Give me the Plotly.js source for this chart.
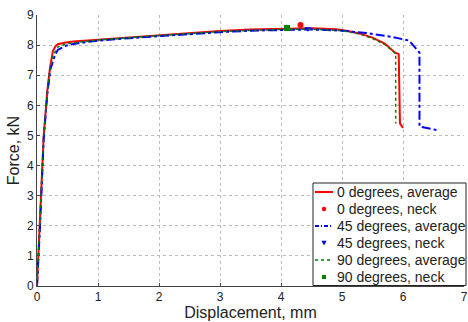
<!DOCTYPE html>
<html><head><meta charset="utf-8">
<script src="https://cdn.plot.ly/plotly-3.0.1.min.js"></script>
<style>html,body{margin:0;padding:0;background:#fff}#c{width:468px;height:322px}</style>
</head><body><div id="c"></div>
<script>
const x0avg = [0,0.05,0.11,0.17,0.21,0.26,0.3,0.34,0.45,0.6,1,1.5,2,2.5,3,3.5,4,4.5,4.9,5.1,5.3,5.5,5.7,5.87,5.93,5.95,6.0];
const y0avg = [0,2.2,5,6.5,7.2,7.8,7.95,8.03,8.08,8.12,8.18,8.25,8.33,8.4,8.47,8.52,8.55,8.56,8.53,8.47,8.38,8.25,8.05,7.75,7.7,5.4,5.25];
const x45avg = [0,0.05,0.11,0.17,0.22,0.3,0.34,0.5,0.7,1,1.5,2,2.5,3,3.5,4,4.5,5,5.4,5.8,6.1,6.27,6.27,6.55];
const y45avg = [0,2,4.9,6.4,7.2,7.7,7.84,8.0,8.07,8.15,8.23,8.3,8.37,8.43,8.48,8.5,8.52,8.48,8.4,8.28,8.15,7.75,5.3,5.18];
const x90avg = [0,0.05,0.11,0.17,0.21,0.27,0.35,0.5,1,2,3,4,4.5,5,5.3,5.5,5.7,5.88,5.88];
const y90avg = [0,2.1,5,6.45,7.15,7.7,7.95,8.05,8.17,8.32,8.45,8.52,8.53,8.48,8.36,8.22,8.02,7.72,5.4];
const neck0x = [4.32], neck0y = [8.67];
const neck45x = [4.44], neck45y = [8.54];
const neck90x = [4.1], neck90y = [8.57];
const names = ["0 degrees, average","0 degrees, neck","45 degrees, average","45 degrees, neck","90 degrees, average","90 degrees, neck"];
const xTicks = [0,1,2,3,4,5,6,7];
const yTicks = [0,1,2,3,4,5,6,7,8,9];

const FONT = 'Liberation Sans, Arial, Helvetica, sans-serif';
const traces = [
 {x:x0avg,y:y0avg,mode:'lines',name:names[0],line:{color:'#ff0000',width:2}},
 {x:neck0x,y:neck0y,mode:'markers',name:names[1],marker:{color:'#ff0000',size:6,symbol:'circle'}},
 {x:x45avg,y:y45avg,mode:'lines',name:names[2],line:{color:'#0000ff',width:2,dash:'dashdot'}},
 {x:neck45x,y:neck45y,mode:'markers',name:names[3],marker:{color:'#0000ff',size:6,symbol:'triangle-down'}},
 {x:x90avg,y:y90avg,mode:'lines',name:names[4],line:{color:'#008000',width:1.5,dash:'dot'}},
 {x:neck90x,y:neck90y,mode:'markers',name:names[5],marker:{color:'#008000',size:6,symbol:'square'}}
];

// legend drawn as shapes + annotations (paper coordinates)
const L=37,T=15,W=427,H=271;
const px = v => (v-L)/W, py = v => (T+H-v)/H;
const shapes = [{type:'rect',xref:'paper',yref:'paper',x0:px(313),x1:px(466),y0:py(285.5),y1:py(183),
  fillcolor:'#fff',line:{color:'#222',width:1}}];
const annotations = [];
const styles = [
 {kind:'line',color:'#ff0000',width:2,dash:'solid'},
 {kind:'circle',color:'#ff0000'},
 {kind:'line',color:'#0000ff',width:2,dash:'4px,2px,1px,2px'},
 {kind:'tri',color:'#0000ff'},
 {kind:'line',color:'#008000',width:1.5,dash:'dot'},
 {kind:'square',color:'#008000'}
];
names.forEach((n,i)=>{
  const r = 192 + 17*i, s = styles[i], cx = 324;
  if (s.kind==='line') shapes.push({type:'line',xref:'paper',yref:'paper',x0:px(315),x1:px(333),y0:py(r),y1:py(r),line:{color:s.color,width:s.width,dash:s.dash}});
  else if (s.kind==='circle') shapes.push({type:'circle',xref:'paper',yref:'paper',x0:px(cx-2.2),x1:px(cx+2.2),y0:py(r+2.2),y1:py(r-2.2),fillcolor:s.color,line:{width:0}});
  else if (s.kind==='square') shapes.push({type:'rect',xref:'paper',yref:'paper',x0:px(cx-2),x1:px(cx+2),y0:py(r+2),y1:py(r-2),fillcolor:s.color,line:{width:0}});
  else shapes.push({type:'path',xref:'paper',yref:'paper',path:`M ${px(cx-2.6)} ${py(r-2.2)} L ${px(cx+2.6)} ${py(r-2.2)} L ${px(cx)} ${py(r+2.6)} Z`,fillcolor:s.color,line:{width:0}});
  annotations.push({xref:'paper',yref:'paper',x:px(335),y:py(r),xanchor:'left',yanchor:'middle',showarrow:false,text:n,
    font:{family:FONT,size:14,color:'#222'}});
});

const tickFont = {family:FONT,size:12,color:'#222'};
const titleFont = {family:FONT,size:16,color:'#222'};
const layout = {
 width:468,height:322,
 margin:{l:L,r:468-L-W,t:T,b:322-T-H},
 paper_bgcolor:'#fff',plot_bgcolor:'#fff',
 font:tickFont,showlegend:false,
 xaxis:{range:[0,7],tickvals:xTicks,showgrid:true,gridcolor:'#bbb',griddash:'dot',zeroline:false,
   showline:true,linecolor:'#444',linewidth:1,ticks:'inside',ticklen:3,tickcolor:'#444',
   tickfont:tickFont,title:{text:'Displacement, mm',font:titleFont,standoff:3}},
 yaxis:{range:[0,9],tickvals:yTicks,showgrid:true,gridcolor:'#bbb',griddash:'dot',zeroline:false,
   showline:true,linecolor:'#444',linewidth:1,ticks:'inside',ticklen:3,tickcolor:'#444',
   tickfont:tickFont,title:{text:'Force, kN',font:titleFont,standoff:3}},
 shapes:shapes, annotations:annotations
};
Plotly.newPlot('c',traces,layout,{displayModeBar:false,staticPlot:true});
</script></body></html>
